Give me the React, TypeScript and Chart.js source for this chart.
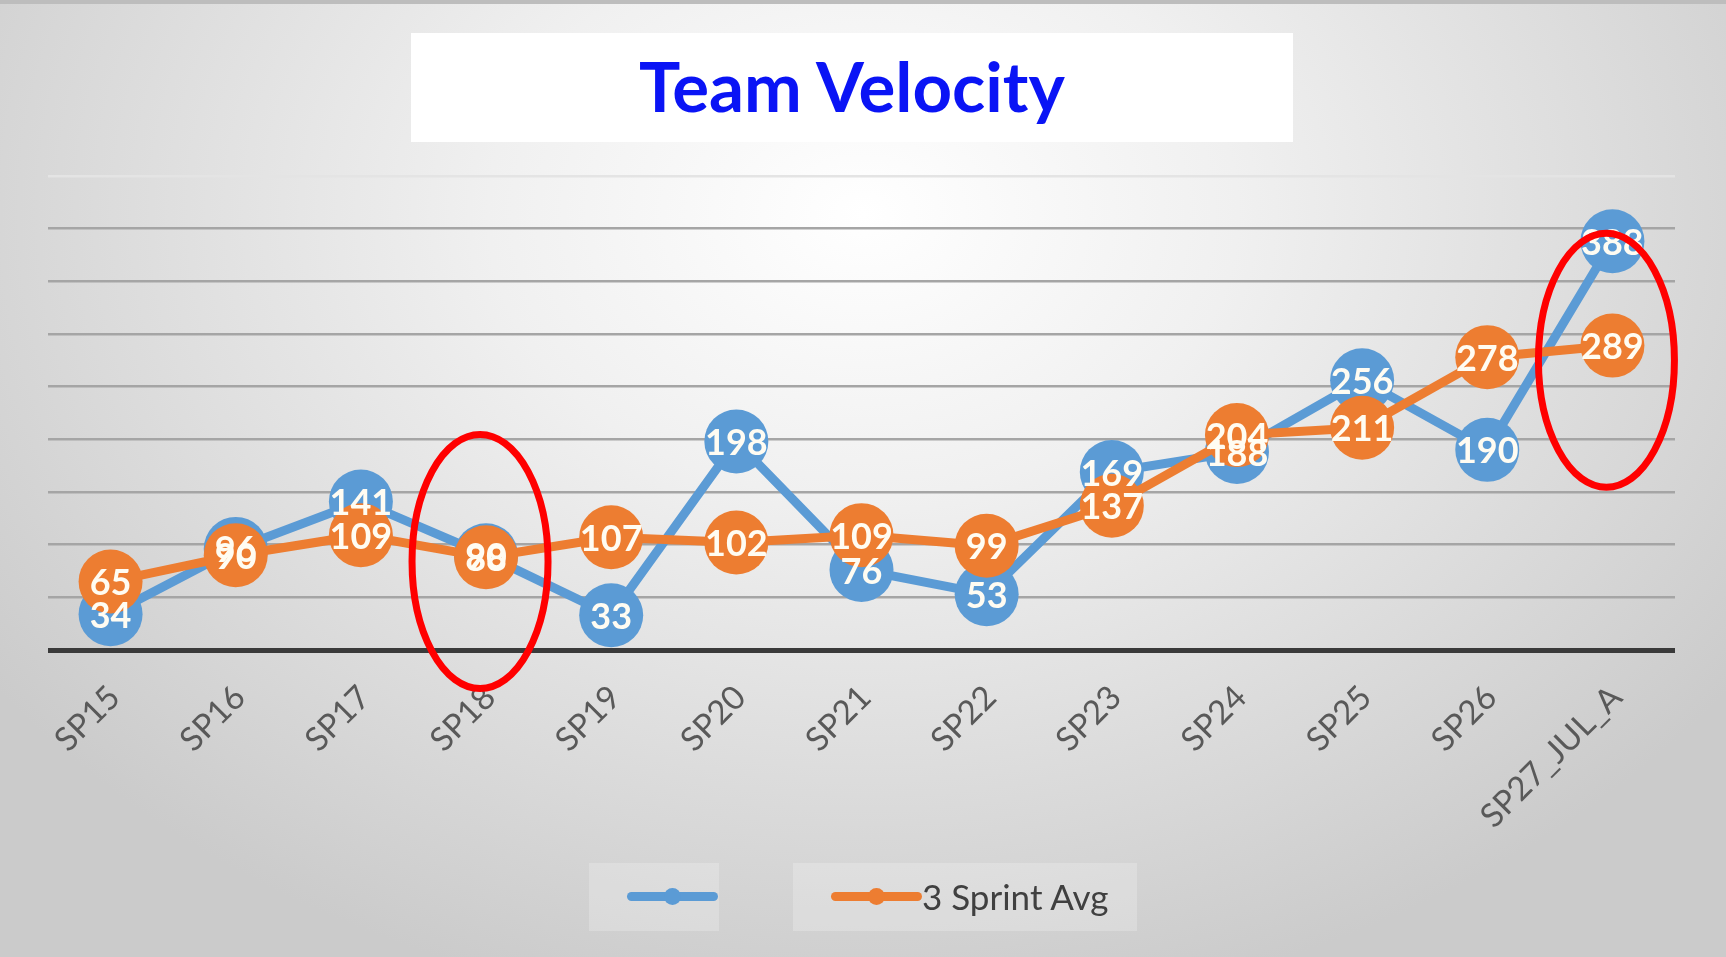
import React, { useEffect, useRef } from 'react';
import { Chart, registerables } from 'chart.js';

Chart.register(...registerables);

const titleText = 'Team Velocity';
const sprints = ['SP15', 'SP16', 'SP17', 'SP18', 'SP19', 'SP20', 'SP21', 'SP22', 'SP23', 'SP24', 'SP25', 'SP26', 'SP27_JUL_A'];
const velocity = [34, 96, 141, 90, 33, 198, 76, 53, 169, 188, 256, 190, 388];
const sprintAvg = [65, 90, 109, 88, 107, 102, 109, 99, 137, 204, 211, 278, 289];
const seriesLabels = ['', '3 Sprint Avg'];
const seriesColors = ['#5B9BD5', '#ED7D31'];
const yMin = 0;
const yMax = 450;
const yStep = 50;
// highlighted sprints (red ellipses) and the value at each ellipse's centre
const highlightSprints = ['SP18', 'SP27_JUL_A'];
const highlightCentres = [84, 275];

const W = 1726;
const H = 957;

const valueLabels = {
  id: 'valueLabels',
  afterDatasetsDraw(chart: any) {
    const ctx = chart.ctx;
    ctx.save();
    ctx.font = 'bold 36px Lato';
    ctx.fillStyle = '#fffcf2';
    ctx.textAlign = 'center';
    ctx.textBaseline = 'middle';
    chart.data.datasets.forEach((ds: any, i: number) => {
      const meta = chart.getDatasetMeta(i);
      meta.data.forEach((pt: any, j: number) => {
        ctx.fillText(String(ds.data[j]), pt.x, pt.y + 2);
      });
    });
    ctx.restore();
  },
};

const highlightEllipses = {
  id: 'highlightEllipses',
  afterDraw(chart: any) {
    const ctx = chart.ctx;
    const xs = chart.scales.x;
    const ys = chart.scales.y;
    ctx.save();
    ctx.strokeStyle = '#ff0000';
    ctx.lineWidth = 7;
    highlightSprints.forEach((s, i) => {
      const idx = sprints.indexOf(s);
      const cx = xs.getPixelForValue(idx) - 6;
      const cy = ys.getPixelForValue(highlightCentres[i]);
      ctx.beginPath();
      ctx.ellipse(cx, cy, 68, 127, 0, 0, Math.PI * 2);
      ctx.stroke();
    });
    ctx.restore();
  },
};

function LegendItem({ color, label, left, width }: { color: string; label: string; left: number; width: number }) {
  return (
    <div
      style={{
        position: 'absolute',
        left,
        top: 859,
        width,
        height: 68,
        background: 'rgba(255,255,255,0.22)',
      }}
    >
      <div
        style={{
          position: 'absolute',
          left: 38,
          top: 29,
          width: 91,
          height: 9,
          borderRadius: 5,
          background: color,
        }}
      />
      <div
        style={{
          position: 'absolute',
          left: 75,
          top: 25,
          width: 17,
          height: 17,
          borderRadius: '50%',
          background: color,
        }}
      />
      {label ? (
        <div
          style={{
            position: 'absolute',
            left: 129,
            top: 11,
            fontFamily: 'Lato',
            fontSize: 35,
            color: '#404040',
            whiteSpace: 'nowrap',
            lineHeight: '44px',
          }}
        >
          {label}
        </div>
      ) : null}
    </div>
  );
}

export default function App() {
  const canvasRef = useRef<HTMLCanvasElement | null>(null);

  useEffect(() => {
    const prevMargin = document.body.style.margin;
    document.body.style.margin = '0';
    const canvas = canvasRef.current;
    if (!canvas) return;
    const chart = new Chart(canvas, {
      type: 'line',
      data: {
        labels: sprints,
        datasets: [
          {
            label: seriesLabels[0],
            data: velocity,
            borderColor: seriesColors[0],
            backgroundColor: seriesColors[0],
            borderWidth: 9,
            pointRadius: 32,
            pointHoverRadius: 32,
            pointBorderWidth: 0,
            tension: 0,
            order: 1,
            clip: false,
          },
          {
            label: seriesLabels[1],
            data: sprintAvg,
            borderColor: seriesColors[1],
            backgroundColor: seriesColors[1],
            borderWidth: 9,
            pointRadius: 32,
            pointHoverRadius: 32,
            pointBorderWidth: 0,
            tension: 0,
            order: 0,
            clip: false,
          },
        ],
      },
      options: {
        animation: false,
        responsive: true,
        maintainAspectRatio: false,
        events: [],
        layout: { padding: { left: 48, right: 51, top: 176, bottom: 0 } },
        plugins: {
          legend: { display: false },
          title: { display: false },
          tooltip: { enabled: false },
        },
        scales: {
          x: {
            offset: true,
            grid: { display: false },
            border: { display: false },
            ticks: {
              autoSkip: false,
              minRotation: 45,
              maxRotation: 45,
              padding: 20,
              labelOffset: 4,
              color: '#595959',
              font: { family: 'Lato', size: 33 },
            },
            afterFit: (scale: any) => {
              scale.height = H - 650;
            },
          },
          y: {
            min: yMin,
            max: yMax,
            ticks: { display: false, stepSize: yStep },
            border: { display: false },
            grid: {
              drawTicks: false,
              color: (c: any) => {
                const v = c.tick ? c.tick.value : 0;
                if (v === 0) return '#3a3a3a';
                if (v === yMax) return '#e4e4e4';
                return '#a5a5a5';
              },
              lineWidth: (c: any) => {
                const v = c.tick ? c.tick.value : 0;
                return v === 0 ? 5 : 2.5;
              },
            },
            afterFit: (scale: any) => {
              scale.width = 0;
            },
          },
        },
      },
      plugins: [valueLabels, highlightEllipses],
    });
    return () => {
      chart.destroy();
      document.body.style.margin = prevMargin;
    };
  }, []);

  return (
    <div
      style={{
        position: 'fixed',
        left: 0,
        top: 0,
        width: W,
        height: H,
        overflow: 'hidden',
        background:
          'radial-gradient(ellipse 62% 85% at 50% 22%, #ffffff 0%, #f0f0f0 35%, #dcdcdc 70%, #cbcbcb 100%)',
        borderTop: '4px solid #bdbdbd',
        boxSizing: 'border-box',
      }}
    >
      <div
        style={{
          position: 'absolute',
          left: 411,
          top: 29,
          width: 882,
          height: 109,
          background: '#ffffff',
          display: 'flex',
          alignItems: 'center',
          justifyContent: 'center',
          fontFamily: 'Lato',
          fontWeight: 'bold',
          fontSize: 69,
          color: '#0a14f5',
        }}
      >
        <span style={{ position: 'relative', top: -2 }}>{titleText}</span>
      </div>
      <div style={{ position: 'absolute', left: 0, top: -4, width: W, height: H }}>
        <canvas ref={canvasRef} />
      </div>
      <LegendItem color={seriesColors[0]} label={seriesLabels[0]} left={589} width={130} />
      <LegendItem color={seriesColors[1]} label={seriesLabels[1]} left={793} width={344} />
    </div>
  );
}
